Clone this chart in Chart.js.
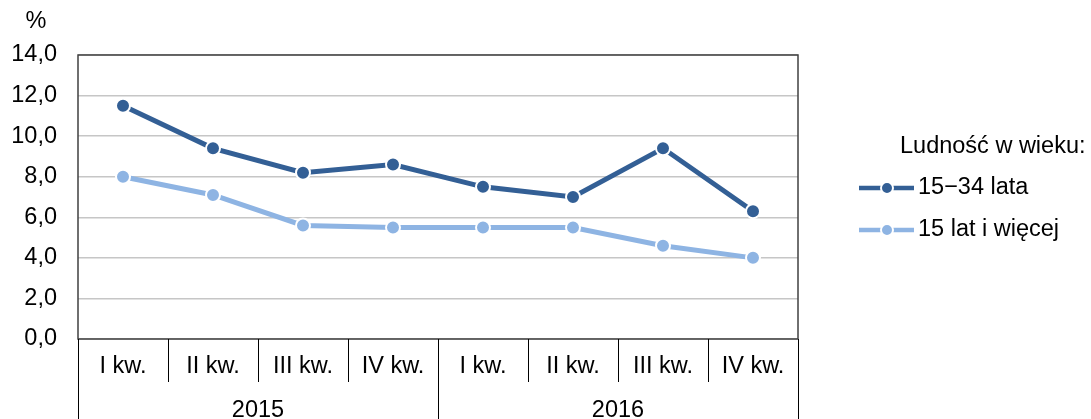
<!DOCTYPE html>
<html>
<head>
<meta charset="utf-8">
<script src="https://cdn.jsdelivr.net/npm/chart.js@4"></script>
<style>
  html, body { margin: 0; padding: 0; background: #fff; }
  #wrap { width: 1091px; height: 419px; }
</style>
</head>
<body>
<div id="wrap"><canvas id="chart" width="1091" height="419"></canvas></div>
<script>
// values
const quarters = ['I kw.', 'II kw.', 'III kw.', 'IV kw.', 'I kw.', 'II kw.', 'III kw.', 'IV kw.'];
const years = ['2015', '2016'];
const young = [11.5, 9.4, 8.2, 8.6, 7.5, 7.0, 9.4, 6.3];
const all = [8.0, 7.1, 5.6, 5.5, 5.5, 5.5, 4.6, 4.0];
const seriesNames = ['15\u221234 lata', '15 lat i więcej'];
const legendTitle = 'Ludność w wieku:';
const yTicks = { min: 0, max: 14, step: 2 };

const dark = '#335f95';
const light = '#8eb4e3';
const font = '"Liberation Sans", Arial, sans-serif';
const fontSize = 23.5;

// draws the frame, the two-level category axis, the % sign and the legend
const decorations = {
    id: 'decorations',
    afterDraw(chart) {
        const ctx = chart.ctx;
        const a = chart.chartArea;
        const x = chart.scales.x;
        const h = chart.height;
        const step = x.getPixelForValue(1) - x.getPixelForValue(0);

        ctx.save();
        ctx.strokeStyle = '#404040';
        ctx.lineWidth = 1.5;
        ctx.strokeRect(a.left, a.top, a.right - a.left, a.bottom - a.top);

        ctx.lineWidth = 1;
        ctx.strokeStyle = '#000';
        for (let i = 0; i <= quarters.length; i++) {
            const px = Math.round(x.getPixelForValue(0) - step / 2 + i * step) + 0.5;
            const long = i % 4 == 0;
            ctx.beginPath();
            ctx.moveTo(px, a.bottom);
            ctx.lineTo(px, long ? h : a.bottom + 43);
            ctx.stroke();
        }

        ctx.fillStyle = '#000';
        ctx.font = fontSize + 'px ' + font;
        ctx.textAlign = 'center';
        ctx.textBaseline = 'middle';
        years.forEach((yr, i) => {
            const cx = (x.getPixelForValue(i * 4 + 1) + x.getPixelForValue(i * 4 + 2)) / 2;
            ctx.fillText(yr, cx, a.bottom + 72);
        });

        ctx.fillText('%', 36, 22);

        // legend
        ctx.textAlign = 'left';
        ctx.fillText(legendTitle, 900, 147);
        chart.data.datasets.forEach((ds, i) => {
            const ly = 188 + i * 42;
            ctx.strokeStyle = ds.borderColor;
            ctx.lineWidth = 4.5;
            ctx.beginPath();
            ctx.moveTo(859, ly);
            ctx.lineTo(914, ly);
            ctx.stroke();
            ctx.fillStyle = ds.pointBackgroundColor;
            ctx.strokeStyle = '#fff';
            ctx.lineWidth = 2;
            ctx.beginPath();
            ctx.arc(887, ly, 6, 0, Math.PI * 2);
            ctx.fill();
            ctx.stroke();
            ctx.fillStyle = '#000';
            ctx.fillText(ds.label, 918, ly);
        });
        ctx.restore();
    }
};

const config = {
    type: 'line',
    data: {
        labels: quarters,
        datasets: [
            {
                label: seriesNames[0],
                data: young,
                borderColor: dark,
                backgroundColor: dark,
                pointBackgroundColor: dark,
                pointBorderColor: '#fff',
                pointBorderWidth: 2,
                pointRadius: 7,
                borderWidth: 5,
                tension: 0
            },
            {
                label: seriesNames[1],
                data: all,
                borderColor: light,
                backgroundColor: light,
                pointBackgroundColor: light,
                pointBorderColor: '#fff',
                pointBorderWidth: 2,
                pointRadius: 7,
                borderWidth: 5,
                tension: 0
            }
        ]
    },
    options: {
        responsive: false,
        animation: false,
        layout: { padding: { top: 55, right: 293, left: 0, bottom: 0 } },
        plugins: {
            legend: { display: false },
            tooltip: { enabled: false }
        },
        scales: {
            x: {
                offset: true,
                grid: { display: false, drawTicks: false },
                border: { display: false },
                ticks: {
                    color: '#000',
                    font: { family: font, size: fontSize },
                    padding: 13,
                    maxRotation: 0,
                    autoSkip: false
                },
                afterFit: (scale) => { scale.height = 80; }
            },
            y: {
                min: yTicks.min,
                max: yTicks.max,
                grid: { color: '#c6c6c6', lineWidth: 1.5, drawTicks: false },
                border: { display: false },
                ticks: {
                    stepSize: yTicks.step,
                    color: '#000',
                    font: { family: font, size: fontSize },
                    padding: 21,
                    callback: (v) => v.toFixed(1).replace('.', ',')
                },
                afterFit: (scale) => { scale.width = 78; }
            }
        }
    },
    plugins: [decorations]
};

new Chart(document.getElementById('chart').getContext('2d'), config);
</script>
</body>
</html>
